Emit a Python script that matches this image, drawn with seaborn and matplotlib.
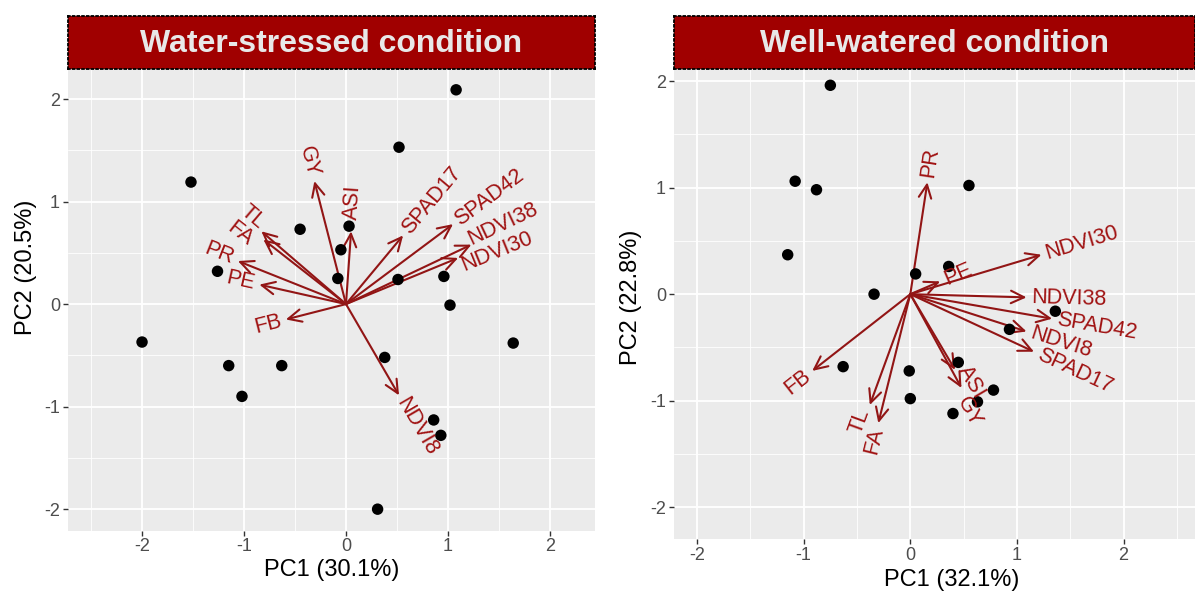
import numpy as np
import pandas as pd
import matplotlib
matplotlib.use("Agg")
import matplotlib.pyplot as plt
from matplotlib.ticker import MultipleLocator
from matplotlib.textpath import TextPath
from matplotlib.font_manager import FontProperties
import seaborn as sns

# ---------------- data ----------------
# Water-stressed condition: genotype scores
ws_pc1 = [1.08, 0.52, -1.52, -0.45, 0.03, -0.05, -1.26, -0.08, 0.51, 0.96,
          1.02, -2.00, -1.15, -0.63, -1.02, 0.38, 1.64, 0.86, 0.93, 0.31]
ws_pc2 = [2.09, 1.53, 1.19, 0.73, 0.76, 0.53, 0.32, 0.25, 0.24, 0.27,
          -0.01, -0.37, -0.60, -0.60, -0.90, -0.52, -0.38, -1.13, -1.28, -2.00]
# Water-stressed condition: trait loadings
ws_vars = ["GY", "ASI", "TL", "FA", "PR", "PE", "FB", "NDVI8",
           "SPAD17", "SPAD42", "NDVI38", "NDVI30"]
ws_load1 = [-0.31, 0.05, -0.83, -0.81, -1.06, -0.85, -0.59, 0.52,
            0.56, 1.05, 1.23, 1.10]
ws_load2 = [1.20, 0.71, 0.71, 0.63, 0.42, 0.19, -0.15, -0.89,
            0.67, 0.78, 0.58, 0.45]

# Well-watered condition: genotype scores
ww_pc1 = [-0.75, -1.08, -0.88, 0.55, -1.15, 0.05, 0.36, -0.34, 1.36, 0.93,
          -0.63, -0.01, 0.00, 0.45, 0.78, 0.63, 0.40]
ww_pc2 = [1.96, 1.06, 0.98, 1.02, 0.37, 0.19, 0.26, 0.00, -0.16, -0.33,
          -0.68, -0.72, -0.98, -0.64, -0.90, -1.01, -1.12]
# Well-watered condition: trait loadings
ww_vars = ["PR", "PE", "NDVI30", "NDVI38", "SPAD42", "NDVI8", "SPAD17",
           "ASI", "GY", "FB", "TL", "FA"]
ww_load1 = [0.16, 0.28, 1.23, 1.09, 1.33, 1.09, 1.16, 0.42, 0.48, -0.92, -0.38, -0.30]
ww_load2 = [1.05, 0.12, 0.37, -0.03, -0.23, -0.35, -0.54, -0.71, -0.88, -0.72, -1.04, -1.21]

titles = ["Water-stressed condition", "Well-watered condition"]
xlabels = ["PC1 (30.1%)", "PC1 (32.1%)"]
ylabels = ["PC2 (20.5%)", "PC2 (22.8%)"]
ticks = [-2, -1, 0, 1, 2]

# label repel nudges (pixels, x right / y down) for overlapping labels
ws_nudge = {"TL": (5, -3), "FA": (-9, 5), "NDVI38": (-7, -3), "NDVI30": (0, 10), "ASI": (0, -7)}
ww_nudge = {"ASI": (5, -7), "GY": (-2, 6), "TL": (-4, 0)}

# ---------------- style ----------------
sns.set_theme(style="darkgrid")
plt.rcParams["font.family"] = ["Liberation Sans", "DejaVu Sans"]
plt.rcParams["axes.unicode_minus"] = False

W, H = 1195, 594
fig = plt.figure(figsize=(W / 100, H / 100), dpi=100)

ARROW_COL = "#921515"
TEXT_COL = "#A01212"
STRIP_COL = "#A00000"
LABEL_FS = 15.5
GAP_PT = 3.5
PX2PT = 0.72


def px_box(x0, y0, x1, y1):
    return [x0 / W, 1 - y1 / H, (x1 - x0) / W, (y1 - y0) / H]


panels = [
    dict(ax=px_box(67.6, 69.3, 594.8, 530.7), strip=px_box(67.6, 16, 594.8, 69.3),
         xlim=(-2.73, 2.44), ylim=(-2.21, 2.29),
         pc1=ws_pc1, pc2=ws_pc2, vars=ws_vars, l1=ws_load1, l2=ws_load2,
         nudge=ws_nudge, xlab_pos=(332, 570), ylab_pos=(26, 267)),
    dict(ax=px_box(673.6, 69.3, 1195, 539.3), strip=px_box(673.6, 16, 1195, 69.3),
         xlim=(-2.22, 2.67), ylim=(-2.30, 2.11),
         pc1=ww_pc1, pc2=ww_pc2, vars=ww_vars, l1=ww_load1, l2=ww_load2,
         nudge=ww_nudge, xlab_pos=(952, 580), ylab_pos=(631, 297)),
]

for i, p in enumerate(panels):
    ax = fig.add_axes(p["ax"])
    ax.set_facecolor("#EBEBEB")
    for s in ax.spines.values():
        s.set_visible(False)
    ax.set_xlim(*p["xlim"])
    ax.set_ylim(*p["ylim"])
    ax.set_xticks(ticks)
    ax.set_yticks(ticks)
    ax.xaxis.set_minor_locator(MultipleLocator(0.5))
    ax.yaxis.set_minor_locator(MultipleLocator(0.5))
    ax.grid(which="major", color="white", lw=1.3)
    ax.grid(which="minor", color="white", lw=0.6)
    ax.set_axisbelow(True)
    ax.tick_params(which="major", length=3.5, width=1.0, color="#333333",
                   labelcolor="#4D4D4D", labelsize=13, pad=2,
                   bottom=True, left=True)
    ax.tick_params(which="minor", length=0)

    # arrows (loadings)
    for name, x, y in zip(p["vars"], p["l1"], p["l2"]):
        ax.annotate("", xy=(x, y), xytext=(0, 0),
                    arrowprops=dict(arrowstyle="->,head_length=0.95,head_width=0.45",
                                    color=ARROW_COL, lw=1.5, shrinkA=0, shrinkB=0,
                                    mutation_scale=10),
                    zorder=2)
        ang = np.degrees(np.arctan2(y, x))
        rot = ang if x >= 0 else ang + 180
        nx, ny = p["nudge"].get(name, (0, 0))
        dx = GAP_PT * np.cos(np.radians(ang)) + nx * PX2PT
        dy = GAP_PT * np.sin(np.radians(ang)) - ny * PX2PT
        ax.annotate(name, xy=(x, y), xytext=(dx, dy), textcoords="offset points",
                    rotation=rot, rotation_mode="anchor",
                    ha="left" if x >= 0 else "right", va="center",
                    color=TEXT_COL, fontsize=LABEL_FS, zorder=4)

    # points (scores)
    df = pd.DataFrame({"PC1": p["pc1"], "PC2": p["pc2"]})
    sns.scatterplot(data=df, x="PC1", y="PC2", ax=ax, color="black", s=68,
                    edgecolor="none", linewidth=0, zorder=3)
    ax.set_xlabel("")
    ax.set_ylabel("")

    # strip
    sax = fig.add_axes(p["strip"])
    sax.set_facecolor(STRIP_COL)
    sax.set_xticks([])
    sax.set_yticks([])
    sax.grid(False)
    for s in sax.spines.values():
        s.set_visible(True)
        s.set_color("black")
        s.set_linewidth(1.3)
        s.set_linestyle((0, (1, 1.6)))
    sax.text(0.5, 0.47, titles[i], transform=sax.transAxes, ha="center", va="center",
             color="#E8E8E8", fontsize=23, fontweight="bold")

    fig.text(p["xlab_pos"][0] / W, 1 - p["xlab_pos"][1] / H, xlabels[i],
             ha="center", va="center", fontsize=17, color="black")
    fig.text(p["ylab_pos"][0] / W, 1 - p["ylab_pos"][1] / H, ylabels[i],
             ha="center", va="center", rotation=90, fontsize=17, color="black")

fig.savefig("out.png", dpi=100)
